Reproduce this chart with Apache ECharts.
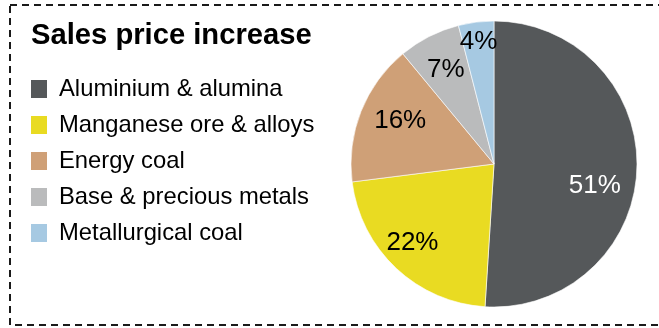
<!DOCTYPE html>
<html>
<head>
<meta charset="utf-8">
<script src="https://cdn.jsdelivr.net/npm/echarts@6/dist/echarts.min.js"></script>
<style>
  html, body { margin: 0; padding: 0; background: #fff; }
  #chart { width: 659px; height: 328px; }
</style>
</head>
<body>
<div id="chart"></div>
<script>
// Share of the sales price increase by commodity (%)
const categories = ['Aluminium & alumina', 'Manganese ore & alloys', 'Energy coal', 'Base & precious metals', 'Metallurgical coal'];
const shares = [51, 22, 16, 7, 4];
const colors = ['#55585A', '#E9DB22', '#CFA077', '#BABBBC', '#A6C9E2'];
const labelColors = ['#FFFFFF', '#000000', '#000000', '#000000', '#000000'];
// label placement inside each slice: fraction of radius, and turn (degrees) from the slice middle
const labelRadius = [0.70, 0.77, 0.70, 0.72, 0.84];
const labelTurn = [10.5, 3, 3, 0, 0];

const FONT = '"Liberation Sans", Arial, sans-serif';
const center = [494, 164];
const radius = 143;

const total = shares.reduce((a, b) => a + b, 0);
const midAngles = [];
let acc = 0;
shares.forEach(v => {
  midAngles.push((acc + v / 2) / total * Math.PI * 2);
  acc += v;
});

const chart = echarts.init(document.getElementById('chart'), null, { renderer: 'canvas' });
chart.setOption({
  animation: false,
  title: {
    text: 'Sales price increase',
    left: 26,
    top: 16,
    textStyle: { fontFamily: FONT, fontSize: 29.2, fontWeight: 'bold', color: '#000' }
  },
  legend: {
    orient: 'vertical',
    left: 31,
    top: 77,
    padding: 0,
    icon: 'rect',
    itemWidth: 16,
    itemHeight: 18,
    itemGap: 12,
    selectedMode: false,
    itemStyle: { borderWidth: 0 },
    textStyle: { fontFamily: FONT, fontSize: 23.8, color: '#000', lineHeight: 24, padding: [0, 0, 0, 7] },
    data: categories
  },
  graphic: [{
    type: 'rect',
    shape: { x: 10, y: 5, width: 662, height: 320 },
    style: { fill: 'none', stroke: '#1a1a1a', lineWidth: 2, lineDash: [7, 5] },
    silent: true,
    z: 10
  }],
  series: [{
    type: 'pie',
    center: center,
    radius: radius,
    startAngle: 90,
    clockwise: true,
    avoidLabelOverlap: false,
    itemStyle: { borderColor: '#fff', borderWidth: 0.6 },
    label: {
      show: true,
      position: 'inside',
      fontFamily: FONT,
      fontSize: 26,
      formatter: p => p.value + '%'
    },
    labelLine: { show: false },
    labelLayout: p => {
      const i = p.dataIndex;
      const mid = midAngles[i];
      const a = mid + labelTurn[i] * Math.PI / 180;
      const r = labelRadius[i] * radius;
      const r0 = 0.5 * radius;
      return {
        dx: r * Math.sin(a) - r0 * Math.sin(mid),
        dy: -r * Math.cos(a) + r0 * Math.cos(mid)
      };
    },
    data: categories.map((name, i) => ({
      name: name,
      value: shares[i],
      itemStyle: { color: colors[i] },
      label: { color: labelColors[i] }
    }))
  }]
});
</script>
</body>
</html>
